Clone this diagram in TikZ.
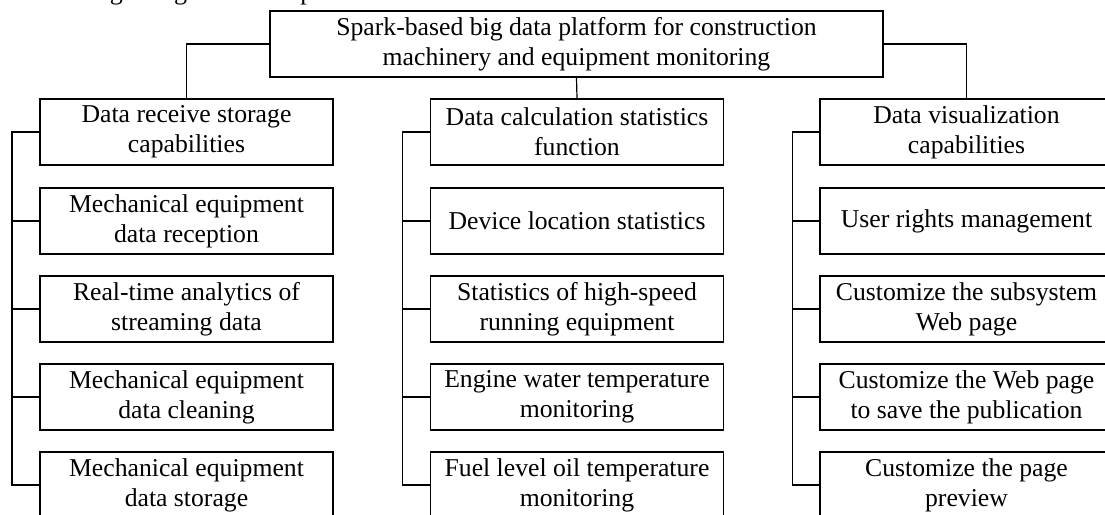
\documentclass[tikz,border=0pt]{standalone}
\usepackage{fontspec}
\setmainfont{Liberation Serif}
\tikzset{
  boxnode/.style={draw, line width=1.5pt, minimum width=293pt, minimum height=66pt,
    align=center, inner sep=0pt, font=\fontsize{25.7}{30}\selectfont},
  topnode/.style={boxnode, minimum width=613pt},
  link/.style={line width=1.2pt},
  trunk/.style={line width=1.8pt},
}
\begin{document}
\begin{tikzpicture}[x=1pt,y=-1pt]
\useasboundingbox (0,0) rectangle (1105,514);
% caption of the page, cut off by the top edge as in the reference
\node[anchor=base west, inner sep=0pt, font=\fontsize{26}{30}\selectfont] (cap) at (-50,-1) {Functional design diagram of the platform};
% top
\node[topnode] (top) at (576.5,44) {Spark-based big data platform for construction\\machinery and equipment monitoring};
% columns
\node[boxnode] (c1) at (186.5,132) {Data receive storage\\capabilities};
\node[boxnode] (c2) at (577,132) {Data calculation statistics\\function};
\node[boxnode] (c3) at (966.5,132) {Data visualization\\capabilities};
% left children
\node[boxnode] (a1) at (186.5,221) {Mechanical equipment\\data reception};
\node[boxnode] (a2) at (186.5,309) {Real-time analytics of\\streaming data};
\node[boxnode] (a3) at (186.5,397) {Mechanical equipment\\data cleaning};
\node[boxnode] (a4) at (186.5,485) {Mechanical equipment\\data storage};
% middle children
\node[boxnode] (b1) at (577,221) {Device location statistics};
\node[boxnode] (b2) at (577,309) {Statistics of high-speed\\running equipment};
\node[boxnode] (b3) at (577,397) {Engine water temperature\\monitoring};
\node[boxnode] (b4) at (577,485) {Fuel level oil temperature\\monitoring};
% right children
\node[boxnode] (d1) at (966.5,221) {User rights management};
\node[boxnode] (d2) at (966.5,309) {Customize the subsystem\\Web page};
\node[boxnode] (d3) at (966.5,397) {Customize the Web page\\to save the publication};
\node[boxnode] (d4) at (966.5,485) {Customize the page\\preview};
% top connectors
\draw[link] (top.west) -| (c1.north);
\draw[link] (top.south) -- (c2.north);
\draw[link] (top.east) -| (c3.north);
% trunks
\coordinate (ta) at (12,0);
\coordinate (tb) at (402.5,0);
\coordinate (tc) at (792.5,0);
\draw[trunk] (c1.west) -- (c1.west -| ta) -- (a4.west -| ta) -- (a4.west);
\foreach \n in {a1,a2,a3} \draw[trunk] (\n.west -| ta) -- (\n.west);
\draw[trunk] (c2.west) -- (c2.west -| tb) -- (b4.west -| tb) -- (b4.west);
\foreach \n in {b1,b2,b3} \draw[trunk] (\n.west -| tb) -- (\n.west);
\draw[trunk] (c3.west) -- (c3.west -| tc) -- (d4.west -| tc) -- (d4.west);
\foreach \n in {d1,d2,d3} \draw[trunk] (\n.west -| tc) -- (\n.west);
\end{tikzpicture}
\end{document}
